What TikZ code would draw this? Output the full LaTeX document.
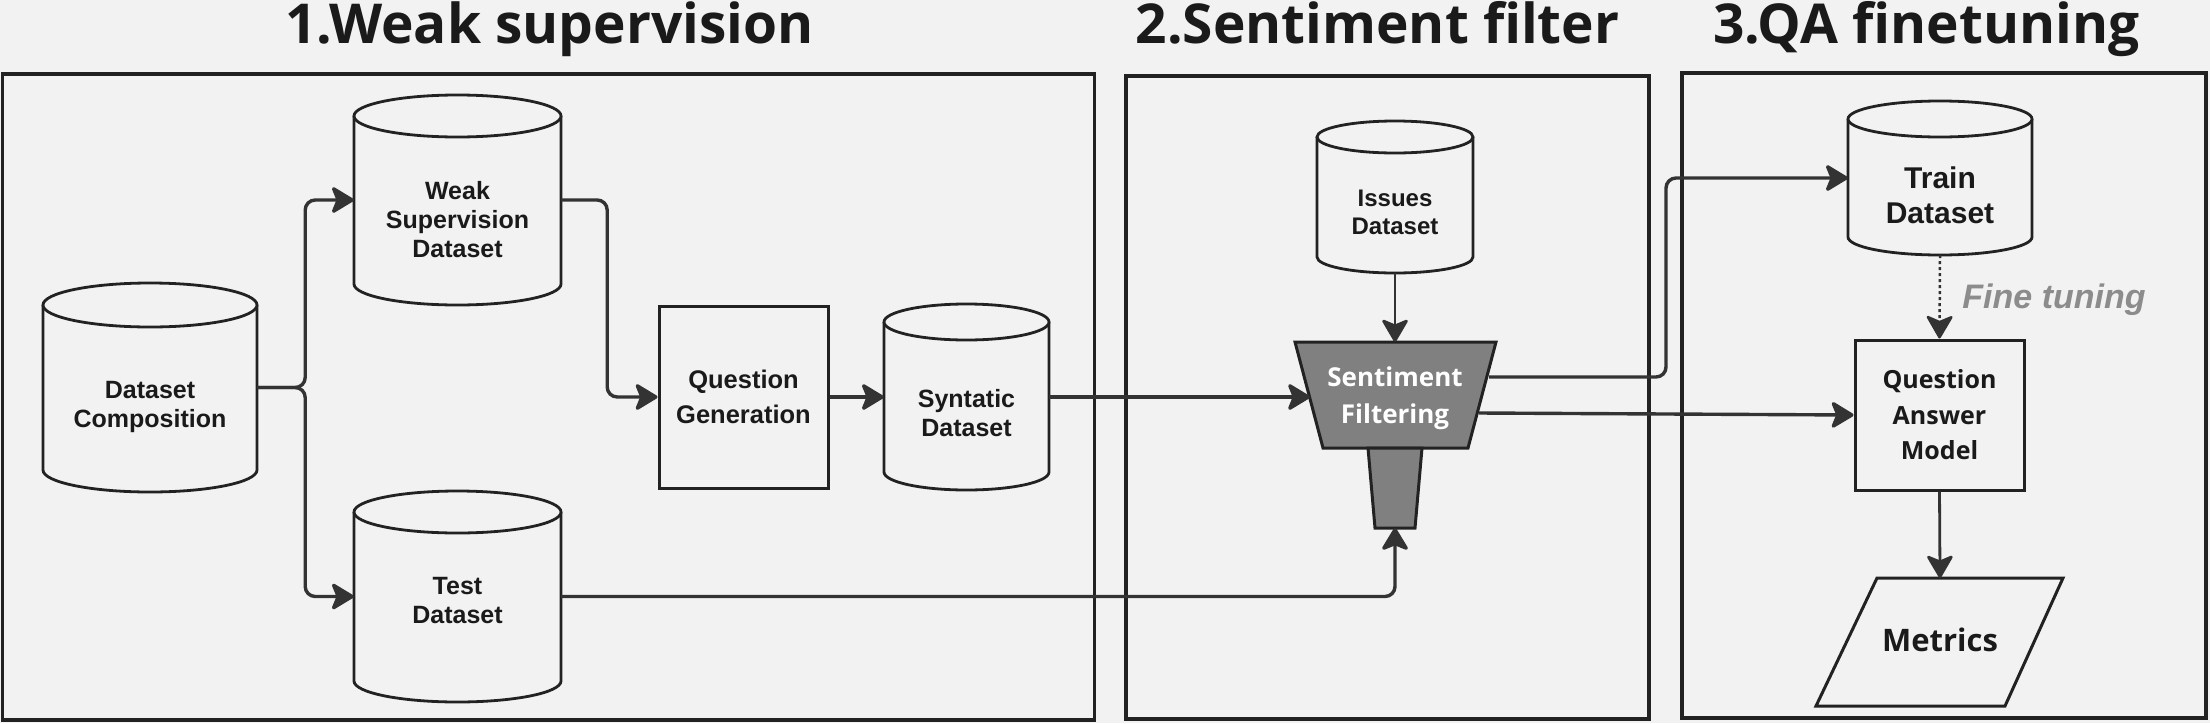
\documentclass[tikz,border=0pt]{standalone}
\usepackage{fontspec}
\setmainfont{Liberation Sans}
\newfontfamily\osans{Open Sans}
\usetikzlibrary{arrows.meta}
\definecolor{bgc}{HTML}{F2F2F2}
\definecolor{lc}{HTML}{333333}
\definecolor{bc}{HTML}{222222}
\definecolor{txc}{HTML}{1A1A1A}
\definecolor{func}{HTML}{808080}
\definecolor{ftc}{HTML}{8C8C8C}
\newcommand\dbcyl[6]{%
  \pgfmathsetmacro\dbrx{(#3-#2)/2}%
  \pgfmathsetmacro\dbcx{(#2+#3)/2}%
  \node[inner sep=0pt, minimum width={(#3-#2)*1pt}, minimum height={(#5-#4)*1pt}] (#1) at (\dbcx,{(#4+#5)/2}) {};
  \draw[dbline] (#2,#4+#6) -- (#2,#5-#6) arc[start angle=180,end angle=360,x radius={\dbrx*1pt},y radius={#6*1pt}] -- (#3,#4+#6);
  \draw[dbline] (\dbcx,#4+#6) ellipse[x radius={\dbrx*1pt}, y radius={#6*1pt}];
}
\begin{document}
\begin{tikzpicture}[x=1pt,y=-1pt,
  panel/.style={draw=bc, line width=3.2pt, inner sep=0pt},
  title/.style={font=\osans\bfseries\fontsize{55}{62}\selectfont, text=txc, inner sep=0pt, anchor=base},
  dbline/.style={draw=bc, line width=2.8pt, fill=bgc},
  dbtxt/.style={font=\bfseries\fontsize{25}{29}\selectfont, align=center, text=txc, inner sep=0pt},
  procbox/.style={draw=bc, line width=3pt, inner sep=0pt, align=center, text=txc},
  conn/.style={draw=lc, line width=3.4pt, rounded corners=10pt, -{Stealth[length=25pt,width=30pt,inset=6pt,round]}},
  thinconn/.style={draw=lc, line width=2.8pt, -{Stealth[length=25pt,width=29pt,inset=6pt,round]}},
  dotconn/.style={thinconn, line width=2.5pt, dash pattern=on 3pt off 3pt},
  funnel/.style={fill=func, draw=bc, line width=3pt, line join=miter}
]
\useasboundingbox (0,0) rectangle (2210,723);
\fill[bgc] (0,0) rectangle (2210,723);

% panels
\node[panel, minimum width=1092pt, minimum height=646pt] (p1) at (548.5,397) {};
\node[panel, minimum width=523pt, minimum height=643pt] (p2) at (1387.5,397.5) {};
\node[panel, minimum width=524pt, minimum height=645pt] (p3) at (1944,395.5) {};

% titles
\node[title] (t1) at (549.5,43) {1.Weak supervision};
\node[title] (t2) at (1377.5,43) {2.Sentiment filter};
\node[title] (t3) at (1926.5,43) {3.QA finetuning};

% cylinders
\dbcyl{dc}{43}{257}{283}{492}{22}
\dbcyl{ws}{354}{561}{95}{305}{21}
\dbcyl{te}{354}{561}{491}{702}{21}
\dbcyl{syn}{884}{1049}{304}{490}{18}
\dbcyl{is}{1317}{1473}{121}{273}{16}
\dbcyl{tr}{1848}{2032}{101}{255}{18}

\node[dbtxt] (dc-t) at (150,407) {Dataset\\Composition};
\node[dbtxt] (ws-t) at (457.5,220) {Weak\\Supervision\\Dataset};
\node[dbtxt] (te-t) at (457.5,601) {Test\\Dataset};
\node[dbtxt] (syn-t) at (966.5,413) {Syntatic\\Dataset};
\node[dbtxt, font=\bfseries\fontsize{24}{28}\selectfont] (is-t) at (1395,212) {Issues\\Dataset};
\node[dbtxt, font=\bfseries\fontsize{30}{35}\selectfont] (tr-t) at (1940,195) {Train\\Dataset};

% process boxes
\node[procbox, font=\bfseries\fontsize{25.5}{35}\selectfont, minimum width=169pt, minimum height=182pt] (qg) at (743.5,397) {Question\\Generation};
\node[procbox, font=\osans\bfseries\fontsize{25}{35.5}\selectfont, minimum width=169pt, minimum height=150pt] (qa) at (1939.5,415) {Question\\Answer\\Model};

% funnel
\draw[funnel] (1295,342) -- (1496,342) -- (1468,448) -- (1323,448) -- cycle;
\draw[funnel] (1368,448) -- (1422,448) -- (1415,528) -- (1375,528) -- cycle;
\node[font=\osans\bfseries\fontsize{26}{37}\selectfont, text=white, align=center, inner sep=0pt] (sf) at (1395,398) {Sentiment\\Filtering};
\coordinate (sfin) at (1310,397);
\coordinate (sfout1) at (1489,377);
\coordinate (sfout2) at (1479,413);
\coordinate (sftop) at (1395,342);
\coordinate (sfbot) at (1395,528);

% metrics
\draw[draw=bc, line width=3pt, line join=miter] (1877,578) -- (2063,578) -- (2005,706) -- (1816,706) -- cycle;
\node[font=\osans\bfseries\fontsize{31}{36}\selectfont, text=txc, inner sep=0pt] (met) at (1940,640) {Metrics};
\coordinate (mettop) at (1940,578);

% fine tuning label
\node[font=\bfseries\itshape\fontsize{34}{40}\selectfont, text=ftc, inner sep=0pt, anchor=base] (ft) at (2054,308) {Fine tuning};

% connectors
\draw[conn] (dc.east) -- ++(48,0) |- (ws.west);
\draw[conn] (dc.east) -- ++(48,0) |- (te.west);
\draw[conn] (ws.east) -- ++(46,0) |- (qg.west);
\draw[conn] (qg.east) -- (syn.west);
\draw[conn] (syn.east) -- (sfin);
\draw[conn] (te.east) -| (sfbot);
\draw[thinconn] (is.south) -- (sftop);
\draw[conn] (sfout1) -- ++(177,0) |- (tr.west);
\draw[conn] (sfout2) -- (qa.west);
\draw[dotconn] (tr.south) -- (qa.north);
\draw[thinconn] (qa.south) -- (mettop);
\end{tikzpicture}
\end{document}
